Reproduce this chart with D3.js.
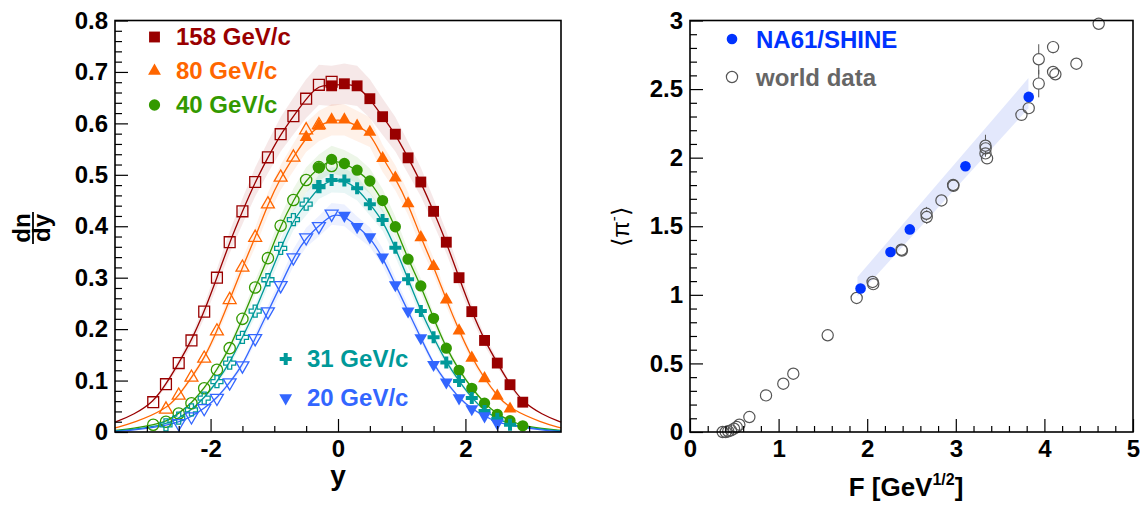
<!DOCTYPE html>
<html><head><meta charset="utf-8">
<script src="https://cdn.jsdelivr.net/npm/d3@7"></script>
<style>
body{margin:0;background:#fff}
svg{display:block}
text{font-family:"Liberation Sans",Arial,Helvetica,sans-serif}
</style>
</head><body>
<svg id="chart" width="1140" height="505"></svg>
<script>
// ---------- LEFT PANEL DATA: dn/dy of pi- vs rapidity ----------
const energyLabels = ["158 GeV/c","80 GeV/c","40 GeV/c","31 GeV/c","20 GeV/c"];

const rap158Closed = [-0.1,0.1,0.3,0.5,0.7,0.9,1.1,1.3,1.5,1.7,1.9,2.1,2.3,2.5,2.7,2.9];
const dn158Closed  = [0.673,0.677,0.673,0.648,0.613,0.579,0.533,0.486,0.429,0.369,0.300,0.234,0.178,0.134,0.092,0.058];
const rap158Open   = [-2.9,-2.7,-2.5,-2.3,-2.1,-1.9,-1.7,-1.5,-1.3,-1.1,-0.9,-0.7,-0.5,-0.3,-0.1];
const dn158Open    = [0.058,0.093,0.134,0.178,0.234,0.300,0.369,0.429,0.486,0.534,0.579,0.614,0.648,0.675,0.681];

const rap80Closed = [-0.5,-0.3,-0.1,0.1,0.3,0.5,0.7,0.9,1.1,1.3,1.5,1.7,1.9,2.1,2.3,2.5,2.7];
const dn80Closed  = [0.573,0.595,0.607,0.607,0.595,0.583,0.532,0.494,0.444,0.378,0.322,0.257,0.197,0.144,0.104,0.070,0.045];
const rap80Open   = [-2.7,-2.5,-2.3,-2.1,-1.9,-1.7,-1.5,-1.3,-1.1,-0.9,-0.7,-0.5,-0.3];
const dn80Open    = [0.044,0.071,0.106,0.143,0.196,0.257,0.320,0.378,0.443,0.495,0.534,0.587,0.597];

const rap40Closed = [-0.3,-0.1,0.1,0.3,0.5,0.7,0.9,1.1,1.3,1.5,1.7,1.9,2.1,2.3,2.5,2.7,2.9];
const dn40Closed  = [0.514,0.530,0.522,0.509,0.488,0.450,0.399,0.336,0.284,0.221,0.163,0.120,0.085,0.056,0.034,0.022,0.012];
const rap40Open   = [-2.9,-2.7,-2.5,-2.3,-2.1,-1.9,-1.7,-1.5,-1.3,-1.1,-0.9,-0.7,-0.5,-0.3,-0.1];
const dn40Open    = [0.014,0.020,0.036,0.056,0.085,0.121,0.163,0.220,0.281,0.338,0.401,0.451,0.490,0.515,0.517];

const rap31Closed = [-0.3,-0.1,0.1,0.3,0.5,0.7,0.9,1.1,1.3,1.5,1.7,1.9,2.1,2.3,2.5,2.7];
const dn31Closed  = [0.477,0.490,0.489,0.474,0.443,0.412,0.358,0.297,0.235,0.184,0.135,0.099,0.066,0.041,0.026,0.014];
const rap31Open   = [-2.7,-2.5,-2.3,-2.1,-1.9,-1.7,-1.5,-1.3,-1.1,-0.9,-0.7,-0.5,-0.3];
const dn31Open    = [0.014,0.027,0.043,0.066,0.098,0.134,0.184,0.235,0.296,0.357,0.413,0.443,0.477];

const rap20Closed = [0.1,0.3,0.5,0.7,0.9,1.1,1.3,1.5,1.7,1.9,2.1,2.3,2.5];
const dn20Closed  = [0.421,0.399,0.379,0.340,0.286,0.235,0.183,0.131,0.097,0.066,0.045,0.031,0.017];
const rap20Open   = [-2.5,-2.3,-2.1,-1.9,-1.7,-1.5,-1.3,-1.1,-0.9,-0.7,-0.5,-0.3,-0.1];
const dn20Open    = [0.017,0.030,0.046,0.066,0.096,0.129,0.182,0.234,0.285,0.339,0.378,0.400,0.424];

// fit-curve tails at |y| = 3.2 and 3.5
const tailRap = [3.2, 3.5];
const tail158 = [0.034, 0.019];
const tail80  = [0.018, 0.008];
const tail40  = [0.007, 0.003];
const tail31  = [0.005, 0.002];
const tail20  = [0.003, 0.001];

// relative systematic uncertainty (shaded bands)
const sysRel = [0.058, 0.05, 0.05, 0.05, 0.05];

const leftYTicks = [0,0.1,0.2,0.3,0.4,0.5,0.6,0.7,0.8];
const leftXTicks = [-2,0,2];

// ---------- RIGHT PANEL DATA: <pi-> vs F ----------
const na61F  = [1.925,2.263,2.481,3.109,3.823];
const na61Pi = [1.046,1.312,1.477,1.937,2.443];

const worldF   = [0.369,0.403,0.432,0.463,0.497,0.527,0.557,0.670,0.858,1.053,1.166,1.554,1.881,2.061,2.068,2.387,2.392,2.669,2.672,2.838,2.970,2.973,3.335,3.337,3.335,3.353,3.741,3.823,3.936,3.936,4.098,4.098,4.124,4.361,4.613];
const worldPi  = [0.000,0.000,0.005,0.012,0.024,0.036,0.053,0.109,0.267,0.352,0.425,0.705,0.977,1.094,1.078,1.329,1.323,1.591,1.567,1.688,1.801,1.795,2.087,2.068,2.031,1.995,2.312,2.361,2.717,2.540,2.806,2.625,2.608,2.685,2.976];
const worldErr = [0,0,0,0,0,0,0,0,0,0,0,0,0,0,0,0,0,0.05,0.05,0.03,0.03,0,0.08,0,0,0,0,0,0.11,0.10,0.045,0.04,0,0,0.04];

const bandF  = [1.89, 3.82];
const bandLo = [0.99, 2.36];
const bandHi = [1.13, 2.58];

const rightYTicks = [0,0.5,1,1.5,2,2.5,3];
const rightXTicks = [0,1,2,3,4,5];

// ---------- styles ----------
const colors = ["#990000","#ff6600","#339900","#009999","#3366ff"];
const symbols = [d3.symbolSquare, d3.symbolTriangle, d3.symbolCircle, d3.symbolCross, d3.symbolTriangle];
const symSize = [118, 72, 100, 80, 72];
const symRot  = [0, 0, 0, 0, 180];

const series = [
  {cx:rap158Closed, cy:dn158Closed, ox:rap158Open, oy:dn158Open, tail:tail158},
  {cx:rap80Closed,  cy:dn80Closed,  ox:rap80Open,  oy:dn80Open,  tail:tail80},
  {cx:rap40Closed,  cy:dn40Closed,  ox:rap40Open,  oy:dn40Open,  tail:tail40},
  {cx:rap31Closed,  cy:dn31Closed,  ox:rap31Open,  oy:dn31Open,  tail:tail31},
  {cx:rap20Closed,  cy:dn20Closed,  ox:rap20Open,  oy:dn20Open,  tail:tail20}
];

const svg = d3.select("#chart");
const TICKFONT = 24;

// ================= LEFT PANEL =================
const xL = d3.scaleLinear().domain([-3.5,3.5]).range([115,561]);
const yL = d3.scaleLinear().domain([0,0.8]).range([432,20.5]);
const gL = svg.append("g");

function pointsOf(s){
  const minC = d3.min(s.cx);
  const pts = [];
  s.ox.forEach((x,i)=>{ if(x < minC - 1e-9) pts.push([x, s.oy[i]]); });
  s.cx.forEach((x,i)=>pts.push([x, s.cy[i]]));
  return pts;
}

// bands
series.forEach((s,k)=>{
  const pts = pointsOf(s);
  const area = d3.area()
    .x(d=>xL(d[0]))
    .y0(d=>yL(d[1]*(1-sysRel[k])))
    .y1(d=>yL(d[1]*(1+sysRel[k])))
    .curve(d3.curveLinear);
  gL.append("path").attr("d", area(pts))
    .attr("fill", colors[k]).attr("fill-opacity", 0.09).attr("stroke","none");
});

// fit curves
series.forEach((s,k)=>{
  const pts = pointsOf(s);
  const full = [[-tailRap[1], s.tail[1]], [-tailRap[0], s.tail[0]], ...pts, [tailRap[0], s.tail[0]], [tailRap[1], s.tail[1]]];
  const line = d3.line().x(d=>xL(d[0])).y(d=>yL(d[1])).curve(d3.curveBasis);
  gL.append("path").attr("d", line(full))
    .attr("fill","none").attr("stroke", colors[k]).attr("stroke-width",1.3);
});

function markerPath(k){ return d3.symbol().type(symbols[k]).size(symSize[k])(); }

// open markers
series.forEach((s,k)=>{
  gL.append("g").selectAll("path").data(s.ox.map((x,i)=>[x,s.oy[i]])).join("path")
    .attr("d", markerPath(k))
    .attr("transform", d=>`translate(${xL(d[0])},${yL(d[1])}) rotate(${symRot[k]})`)
    .attr("fill","none").attr("stroke",colors[k]).attr("stroke-width",1.3);
});
// closed markers
series.forEach((s,k)=>{
  gL.append("g").selectAll("path").data(s.cx.map((x,i)=>[x,s.cy[i]])).join("path")
    .attr("d", markerPath(k))
    .attr("transform", d=>`translate(${xL(d[0])},${yL(d[1])}) rotate(${symRot[k]})`)
    .attr("fill",colors[k]).attr("stroke","none");
});

// axes
function drawAxes(g, xs, ys, xMajor, xMinor, yMajor, yMinor, xFmt, yFmt){
  const x0 = xs.range()[0], x1 = xs.range()[1];
  const y0 = ys.range()[0], y1 = ys.range()[1];
  g.append("g").attr("transform",`translate(0,${y0})`)
    .call(d3.axisBottom(xs).tickValues(xMinor).tickSizeInner(-6).tickSizeOuter(0).tickFormat(""))
    .call(a=>a.select(".domain").remove());
  g.append("g").attr("transform",`translate(0,${y0})`)
    .call(d3.axisBottom(xs).tickValues(xMajor).tickSizeInner(-13).tickSizeOuter(0).tickPadding(8).tickFormat(xFmt))
    .call(a=>a.select(".domain").remove())
    .call(a=>a.selectAll("text").attr("font-size",TICKFONT).attr("font-weight","bold").attr("fill","#000").attr("dy","0.72em")
      .attr("font-family","Liberation Sans, Arial, sans-serif"));
  g.append("g").attr("transform",`translate(${x0},0)`)
    .call(d3.axisLeft(ys).tickValues(yMinor).tickSizeInner(-7).tickSizeOuter(0).tickFormat(""))
    .call(a=>a.select(".domain").remove());
  g.append("g").attr("transform",`translate(${x0},0)`)
    .call(d3.axisLeft(ys).tickValues(yMajor).tickSizeInner(-13).tickSizeOuter(0).tickPadding(7).tickFormat(yFmt))
    .call(a=>a.select(".domain").remove())
    .call(a=>a.selectAll("text").attr("font-size",TICKFONT).attr("font-weight","bold").attr("fill","#000")
      .attr("font-family","Liberation Sans, Arial, sans-serif"));
  g.selectAll(".tick line").attr("stroke","#000").attr("stroke-width",1.2);
  g.append("rect").attr("x",x0).attr("y",y1).attr("width",x1-x0).attr("height",y0-y1)
    .attr("fill","none").attr("stroke","#000").attr("stroke-width",1.6);
}

const leftXMinor = d3.range(-3.5,3.51,0.5).map(v=>+v.toFixed(2)).filter(v=>!leftXTicks.includes(v) && v>-3.5 && v<3.5);
const leftYMinor = d3.range(0,0.801,0.02).map(v=>+v.toFixed(3)).filter(v=>!leftYTicks.some(t=>Math.abs(t-v)<1e-6));
drawAxes(gL, xL, yL, leftXTicks, leftXMinor, leftYTicks, leftYMinor, d=>String(d), d=>String(d));

// left axis titles
gL.append("text").attr("x",338).attr("y",485).attr("text-anchor","middle")
  .attr("font-size",28).attr("font-weight","bold").text("y");
const frac = gL.append("g").attr("transform","translate(33,228) rotate(-90)");
frac.append("text").attr("x",0).attr("y",-3).attr("text-anchor","middle")
  .attr("font-size",24).attr("font-weight","bold").text("dn");
frac.append("line").attr("x1",-16).attr("x2",16).attr("y1",0).attr("y2",0).attr("stroke","#000").attr("stroke-width",1.8);
frac.append("text").attr("x",0).attr("y",17).attr("text-anchor","middle")
  .attr("font-size",24).attr("font-weight","bold").text("dy");

// left legends
const legPos = [[154.5,37,176,45],[154.5,71,176,79],[154.5,105,176,113],[285.7,359,307,367],[285.7,398,307,406]];
legPos.forEach((p,k)=>{
  gL.append("path").attr("d", markerPath(k))
    .attr("transform",`translate(${p[0]},${p[1]}) rotate(${symRot[k]})`).attr("fill",colors[k]);
  gL.append("text").attr("x",p[2]).attr("y",p[3]).attr("font-size",24).attr("font-weight","bold")
    .attr("fill",colors[k]).text(energyLabels[k]);
});

// ================= RIGHT PANEL =================
const xR = d3.scaleLinear().domain([0,5]).range([690,1133]);
const yR = d3.scaleLinear().domain([0,3]).range([432,20.5]);
const gR = svg.append("g");

// fit band
const bandPts = bandF.map((f,i)=>[f,bandLo[i],bandHi[i]]);
gR.append("path").attr("d", d3.area().x(d=>xR(d[0])).y0(d=>yR(d[1])).y1(d=>yR(d[2]))(bandPts))
  .attr("fill","#e3e8fc").attr("stroke","none");

// world data error bars
const rW = 5.6;
const world = worldF.map((f,i)=>({f, v:worldPi[i], e:worldErr[i]}));
world.forEach(d=>{
  const cy = yR(d.v), top = yR(d.v+d.e), bot = yR(d.v-d.e), cx = xR(d.f);
  if (cy-top > rW) gR.append("line").attr("x1",cx).attr("x2",cx).attr("y1",top).attr("y2",cy-rW).attr("stroke","#555").attr("stroke-width",1);
  if (bot-cy > rW) gR.append("line").attr("x1",cx).attr("x2",cx).attr("y1",cy+rW).attr("y2",bot).attr("stroke","#555").attr("stroke-width",1);
});
gR.append("g").selectAll("circle").data(world).join("circle")
  .attr("cx",d=>xR(d.f)).attr("cy",d=>yR(d.v)).attr("r",rW)
  .attr("fill","none").attr("stroke","#555").attr("stroke-width",1.2);
gR.append("g").selectAll("circle").data(na61F.map((f,i)=>[f,na61Pi[i]])).join("circle")
  .attr("cx",d=>xR(d[0])).attr("cy",d=>yR(d[1])).attr("r",5.3).attr("fill","#0033ff");

const rightXMinor = d3.range(0,5.001,0.2).map(v=>+v.toFixed(2)).filter(v=>!rightXTicks.some(t=>Math.abs(t-v)<1e-6));
const rightYMinor = d3.range(0,3.001,0.1).map(v=>+v.toFixed(2)).filter(v=>!rightYTicks.some(t=>Math.abs(t-v)<1e-6));
drawAxes(gR, xR, yR, rightXTicks, rightXMinor, rightYTicks, rightYMinor, d=>String(d), d=>String(d));

// right axis titles
const xt = gR.append("text").attr("x",906).attr("y",496).attr("text-anchor","middle")
  .attr("font-size",26).attr("font-weight","bold");
xt.append("tspan").text("F [GeV");
xt.append("tspan").attr("font-size",16).attr("dy",-11).text("1/2");
xt.append("tspan").attr("dy",11).text("]");

const yt = gR.append("text").attr("transform","translate(629,227) rotate(-90)").attr("text-anchor","middle")
  .attr("font-size",24).attr("font-family","DejaVu Sans, sans-serif");
yt.append("tspan").text("\u27E8\u03C0");
yt.append("tspan").attr("font-size",15).attr("dy",-10).text("-");
yt.append("tspan").attr("dy",10).text("\u27E9");

// right legend
gR.append("circle").attr("cx",732).attr("cy",39).attr("r",5.3).attr("fill","#0033ff");
gR.append("text").attr("x",756).attr("y",48).attr("font-size",24).attr("font-weight","bold").attr("fill","#0033ff").text("NA61/SHINE");
gR.append("circle").attr("cx",732).attr("cy",77).attr("r",rW).attr("fill","none").attr("stroke","#555").attr("stroke-width",1.2);
gR.append("text").attr("x",756).attr("y",86).attr("font-size",24).attr("font-weight","bold").attr("fill","#666").text("world data");
</script>
</body></html>
